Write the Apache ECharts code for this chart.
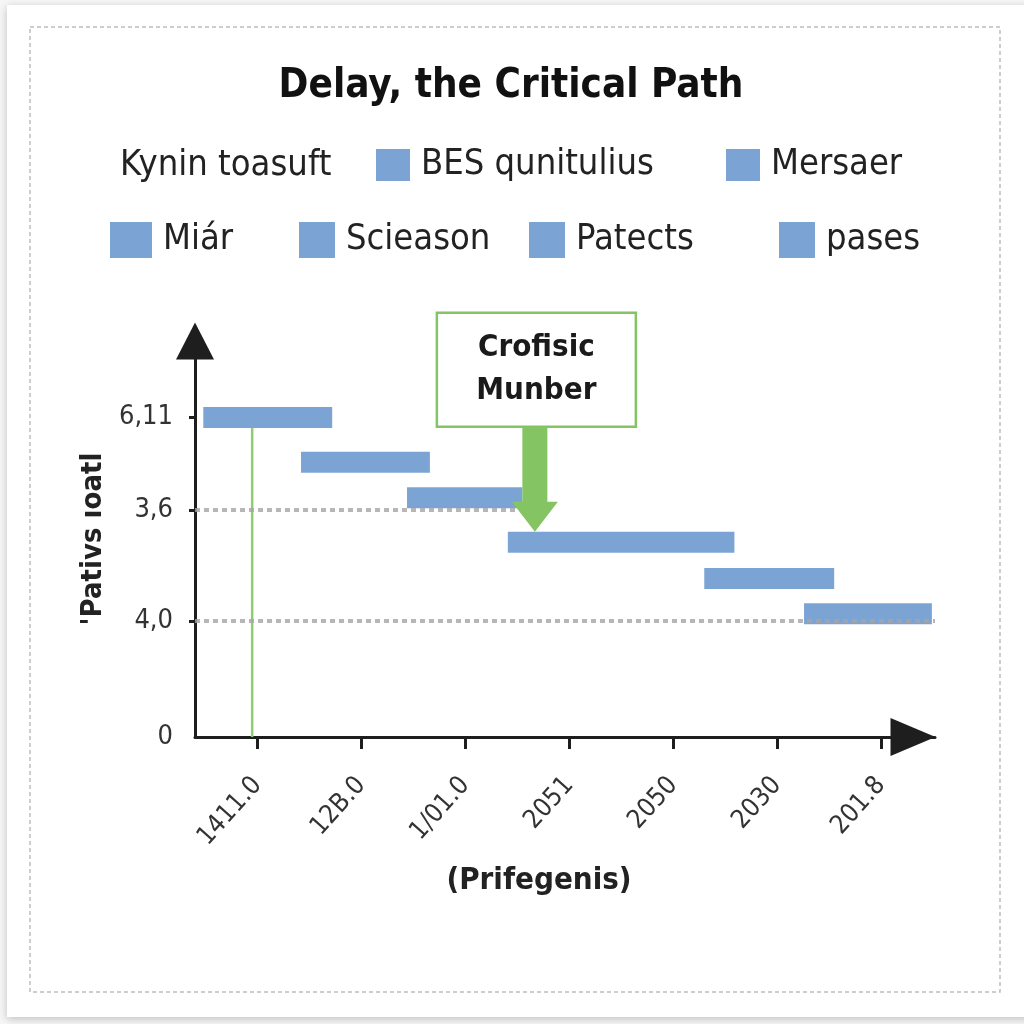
<!DOCTYPE html>
<html><head><meta charset="utf-8">
<script src="https://cdn.jsdelivr.net/npm/echarts@6/dist/echarts.min.js"></script>
<style>html,body{margin:0;padding:0;background:#f6f6f6}#chart{width:1024px;height:1024px}</style>
</head><body><div id="chart"></div>
<script>
// ---- data ----
const chartTitle = 'Delay, the Critical Path';
const legendHeading = 'Kynin toasuft';
const taskNames = ['BES qunitulius', 'Mersaer', 'Miár', 'Scieason', 'Patects', 'pases'];
const taskStart = [0.48, 1.42, 2.44, 3.41, 5.30, 6.26];
const taskEnd   = [1.72, 2.66, 3.55, 5.59, 6.55, 7.49];
const taskLevel = [8.07, 6.94, 6.04, 4.92, 4.00, 3.11];
const xTickValues = [1, 2, 3, 4, 5, 6, 7];
const xTickLabels = ['1411.0', '12B.0', '1/01.0', '2051', '2050', '2030', '201.8'];
const yTickValues = [0, 2.93, 5.73, 8.07];
const yTickLabels = ['0', '4,0', '3,6', '6,11'];
const xAxisName = '(Prifegenis)';
const yAxisName = "'Pativs ıoatl";
const refLineLevels = [5.73, 2.93];
const refLineEnds = [3.52, 7.52];
const milestoneX = 0.95;
const calloutText = 'Crofisic\nMunber';
const calloutTarget = [3.67, 4.92];

// ---- styles / layout ----
const FONT = '"Liberation Sans Narrow", "DejaVu Sans Condensed", "Liberation Sans", sans-serif';
const BAR_COLOR = '#7ba4d4';
const GREEN = '#84c462';
const BAR_H = 21;
const legendLayout = [
  {left: 376, top: 147, w: 34, h: 32},
  {left: 726, top: 147, w: 34, h: 32},
  {left: 110, top: 222, w: 42, h: 36},
  {left: 299, top: 222, w: 36, h: 36},
  {left: 529, top: 222, w: 36, h: 36},
  {left: 779, top: 222, w: 36, h: 36}
];

const chart = echarts.init(document.getElementById('chart'), null, {renderer: 'canvas'});

function renderBar(params, api) {
  const s = api.coord([api.value(0), api.value(2)]);
  const e = api.coord([api.value(1), api.value(2)]);
  return {
    type: 'rect',
    shape: {x: s[0], y: s[1] - BAR_H / 2, width: e[0] - s[0], height: BAR_H},
    style: {fill: api.visual('color')}
  };
}

const barSeries = taskNames.map((name, i) => ({
  type: 'custom',
  name: name,
  renderItem: renderBar,
  clip: false,
  z: 3,
  itemStyle: {color: BAR_COLOR},
  encode: {x: [0, 1], y: 2},
  data: [[taskStart[i], taskEnd[i], taskLevel[i]]]
}));

const refSeries = refLineLevels.map((lv, i) => ({
  type: 'line',
  clip: false,
  silent: true,
  symbol: 'none',
  z: 4,
  lineStyle: {color: 'rgba(165,165,165,0.8)', width: 4, type: [5, 4]},
  data: [[0.4, lv], [refLineEnds[i], lv]]
}));

const milestoneSeries = {
  type: 'line',
  clip: false,
  silent: true,
  symbol: 'none',
  z: 2,
  lineStyle: {color: '#8fcd70', width: 2.5},
  data: [[milestoneX, 0], [milestoneX, taskLevel[0]]]
};

function pickLabel(values, labels) {
  return function (v) {
    let best = 0;
    for (let i = 1; i < values.length; i++) {
      if (Math.abs(values[i] - v) < Math.abs(values[best] - v)) best = i;
    }
    return labels[best];
  };
}

const legends = taskNames.map((name, i) => ({
  data: [name],
  left: legendLayout[i].left,
  top: legendLayout[i].top,
  padding: 0,
  icon: 'rect',
  itemWidth: legendLayout[i].w,
  itemHeight: legendLayout[i].h,
  itemGap: 0,
  selectedMode: false,
  textStyle: {fontFamily: FONT, fontSize: 36, color: '#222', padding: [0, 0, 0, 6]}
}));

chart.setOption({
  backgroundColor: '#f6f6f6',
  animation: false,
  title: [
    {text: chartTitle, left: 506, top: 62, textAlign: 'center',
     textStyle: {fontFamily: FONT, fontWeight: 'bold', fontSize: 40, color: '#111'}},
    {text: legendHeading, left: 115, top: 143,
     textStyle: {fontFamily: FONT, fontWeight: 'normal', fontSize: 36, color: '#222'}}
  ],
  legend: legends,
  grid: {left: 195, right: 89, top: 341, bottom: 287, containLabel: false, outerBoundsMode: 'none'},
  xAxis: {
    type: 'value', min: 0.4, max: 7.52,
    splitLine: {show: false},
    axisLine: {show: true, lineStyle: {color: '#1e1e1e', width: 3},
               symbol: ['none', 'triangle'], symbolSize: [38, 45], symbolOffset: [0, -22]},
    axisTick: {show: true, customValues: xTickValues, length: 12, lineStyle: {color: '#1e1e1e', width: 3}},
    axisLabel: {customValues: xTickValues, formatter: pickLabel(xTickValues, xTickLabels),
                rotate: 48, margin: 44, fontFamily: FONT, fontSize: 26, color: '#333'},
    name: xAxisName, nameLocation: 'middle', nameGap: 128,
    nameTextStyle: {fontFamily: FONT, fontWeight: 'bold', fontSize: 31, color: '#222', padding: [0, 52, 0, 0]}
  },
  yAxis: {
    type: 'value', min: 0, max: 10,
    splitLine: {show: false},
    axisLine: {show: true, lineStyle: {color: '#1e1e1e', width: 3},
               symbol: ['none', 'triangle'], symbolSize: [38, 37]},
    axisTick: {show: true, customValues: [2.93, 5.73, 8.07], length: 6, lineStyle: {color: '#1e1e1e', width: 3}},
    axisLabel: {customValues: yTickValues, formatter: pickLabel(yTickValues, yTickLabels),
                margin: 22, fontFamily: FONT, fontSize: 27, color: '#333'},
    name: yAxisName, nameLocation: 'middle', nameGap: 76, nameRotate: 90,
    nameTextStyle: {fontFamily: FONT, fontWeight: 'bold', fontSize: 29, color: '#222'}
  },
  graphic: [
    {id: 'card', type: 'rect', z: -10, silent: true,
     shape: {x: 7, y: 5, width: 1030, height: 1012},
     style: {fill: '#ffffff', shadowBlur: 8, shadowColor: 'rgba(0,0,0,0.22)', shadowOffsetY: 2}},
    {id: 'frame', type: 'rect', z: -9, silent: true,
     shape: {x: 30, y: 27, width: 970, height: 965},
     style: {fill: 'none', stroke: '#bdbdbd', lineWidth: 1.5, lineDash: [4, 3]}}
  ],
  series: [milestoneSeries].concat(barSeries, refSeries)
});

// callout anchored to the target task via the chart's own scales
const p = chart.convertToPixel({gridIndex: 0}, calloutTarget);
const tipX = p[0], tipY = p[1] - BAR_H / 2;
const boxW = 199, boxH = 114, boxBottom = tipY - 105;
const cx = tipX + 1.5;
chart.setOption({
  graphic: [
    {id: 'calloutArrow', type: 'polygon', z: 10, silent: true,
     shape: {points: [
       [tipX - 12.5, boxBottom], [tipX + 12.5, boxBottom], [tipX + 12.5, tipY - 30],
       [tipX + 23, tipY - 30], [tipX, tipY], [tipX - 23, tipY - 30], [tipX - 12.5, tipY - 30]
     ]},
     style: {fill: GREEN}},
    {id: 'calloutBox', type: 'rect', z: 11, silent: true,
     shape: {x: cx - boxW / 2, y: boxBottom - boxH, width: boxW, height: boxH},
     style: {fill: '#ffffff', stroke: GREEN, lineWidth: 2.5}},
    {id: 'calloutText', type: 'text', z: 12, silent: true,
     x: cx, y: boxBottom - boxH / 2,
     style: {text: calloutText, fontFamily: FONT, fontWeight: 'bold', fontSize: 31,
             lineHeight: 43, fill: '#1a1a1a', align: 'center', verticalAlign: 'middle'}}
  ]
});
</script>
</body></html>
